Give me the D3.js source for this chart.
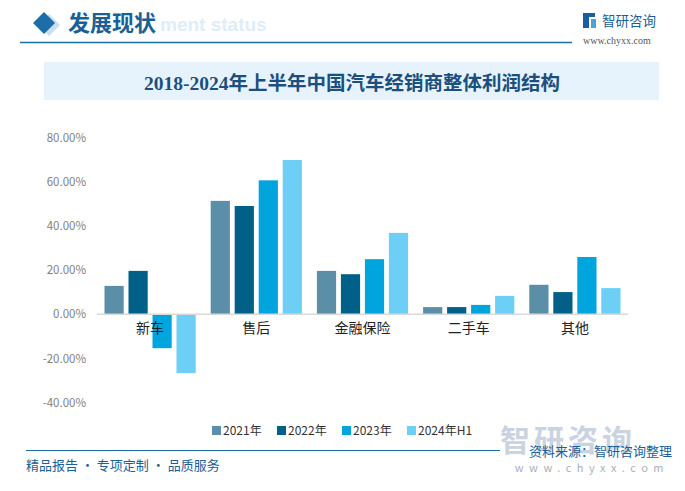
<!DOCTYPE html>
<html><head><meta charset="utf-8">
<script src="https://cdn.jsdelivr.net/npm/d3@7/dist/d3.min.js"></script>
<style>
body{margin:0;background:#fff;}
svg{display:block;font-family:"Noto Sans CJK SC","Microsoft YaHei",sans-serif;}
</style></head>
<body><svg id="c" width="685" height="491"></svg>
<script>
const categories = ["新车","售后","金融保险","二手车","其他"];
const seriesNames = ["2021年","2022年","2023年","2024年H1"];
const s2021 = [12.8, 51.3, 19.6, 3.2, 13.3];
const s2022 = [19.6, 49.0, 18.1, 3.2, 10.0];
const s2023 = [-15.4, 60.6, 24.9, 4.2, 25.9];
const s2024H1 = [-26.7, 69.8, 36.8, 8.3, 11.8];
const yTicks = [80, 60, 40, 20, 0, -20, -40];
const colors = ["#5b8fa8","#006088","#00a5dd","#6dcff6"];
const series = [s2021, s2022, s2023, s2024H1];

const svg = d3.select("#c");

// Header
svg.append("path").attr("d","M44,12 L55,23 L44,34 L33,23 Z").attr("fill","#c9dff0").attr("transform","translate(5,2)");
svg.append("path").attr("d","M44,12 L55,23 L44,34 L33,23 Z").attr("fill","#1b6ea8");
svg.append("text").attr("x",160).attr("y",31).text("ment status")
  .attr("font-family","Arial, Liberation Sans, sans-serif").attr("font-weight","bold")
  .attr("font-size",19).attr("fill","#deedf8");
svg.append("text").attr("x",68).attr("y",31).text("发展现状")
  .attr("font-size",22).attr("font-weight","bold").attr("fill","#1a5f96");
svg.append("line").attr("x1",20).attr("x2",572).attr("y1",42.5).attr("y2",42.5)
  .attr("stroke","#1b6ea8").attr("stroke-width",1.5);
// logo
const lg = svg.append("g").attr("transform","translate(583,13)");
lg.append("rect").attr("x",0).attr("y",0).attr("width",6).attr("height",15).attr("fill","#1b5ea0");
lg.append("rect").attr("x",0).attr("y",0).attr("width",12).attr("height",4).attr("fill","#1b5ea0");
lg.append("rect").attr("x",8).attr("y",6).attr("width",5).attr("height",9).attr("fill","#4aa3df");
svg.append("text").attr("x",602).attr("y",26).text("智研咨询").attr("font-size",13.5).attr("fill","#1a5f96");
svg.append("text").attr("x",583).attr("y",44).text("www.chyxx.com")
  .attr("font-family","Liberation Serif, serif").attr("font-size",10).attr("fill","#555");

// Title box
svg.append("rect").attr("x",44).attr("y",62).attr("width",615).attr("height",38).attr("fill","#e7f3fc");
svg.append("text").attr("x",352).attr("y",90).attr("text-anchor","middle")
  .text("2018-2024年上半年中国汽车经销商整体利润结构")
  .attr("font-family","Liberation Serif, 'Noto Sans CJK SC', serif").attr("font-weight","bold")
  .attr("font-size",19.5).attr("fill","#1c4f7c");

// Scales
const x0 = d3.scaleBand().domain(categories).range([97, 628]).padding(0);
const x1 = d3.scaleBand().domain(seriesNames).range([7.5, x0.bandwidth()-7.5]).paddingInner(0.2).paddingOuter(0);
const y = d3.scaleLinear().domain([-40, 80]).range([402.5, 137.5]);

// y axis labels
const yAxis = d3.axisLeft(y).tickValues(yTicks).tickSize(0).tickPadding(0)
  .tickFormat(d => d.toFixed(2) + "%");
const ya = svg.append("g").attr("transform","translate(86,0)").call(yAxis);
ya.select(".domain").remove();
ya.selectAll("text").attr("font-size",11.5).attr("fill","#7f7f7f")
  .attr("font-family","'Noto Sans CJK SC', sans-serif");

// bars
const groups = svg.append("g").selectAll("g").data(categories).join("g")
  .attr("transform", d => `translate(${x0(d)},0)`);
groups.selectAll("rect").data((d,i) => series.map((s,j) => ({k: seriesNames[j], v: s[i], c: colors[j]})))
  .join("rect")
  .attr("x", d => x1(d.k)).attr("width", x1.bandwidth())
  .attr("y", d => y(Math.max(0, d.v))).attr("height", d => Math.abs(y(d.v) - y(0)))
  .attr("fill", d => d.c);

// zero line
svg.append("line").attr("x1",97).attr("x2",628).attr("y1",y(0)).attr("y2",y(0))
  .attr("stroke","#d9d9d9").attr("stroke-width",1.5);

// category labels
const xAxis = d3.axisBottom(x0).tickSize(0).tickPadding(0);
const xa = svg.append("g").attr("transform",`translate(0,${y(0)+9})`).call(xAxis);
xa.select(".domain").remove();
xa.selectAll("text").attr("font-size",14).attr("fill","#222")
  .attr("font-family","'Noto Sans CJK SC', sans-serif");

// legend
const leg = svg.append("g").selectAll("g").data(seriesNames).join("g")
  .attr("transform",(d,i)=>`translate(${212 + i*65},426)`);
leg.append("rect").attr("width",9).attr("height",9).attr("fill",(d,i)=>colors[i]);
leg.append("text").attr("x",11).attr("y",8.5).text(d=>d).attr("font-size",12).attr("fill","#333")
  .attr("font-family","'Noto Sans CJK SC', sans-serif");

// footer
svg.append("text").attr("x",500).attr("y",451).text("智研咨询").attr("font-size",30)
  .attr("fill","#c9d3e1").attr("font-weight","bold").attr("letter-spacing",4);
svg.append("line").attr("x1",26).attr("x2",500).attr("y1",450.5).attr("y2",450.5)
  .attr("stroke","#1b6ea8").attr("stroke-width",1.2);
svg.append("text").attr("x",26).attr("y",470).text("精品报告 · 专项定制 · 品质服务")
  .attr("font-size",13).attr("fill","#1a5f96");
svg.append("text").attr("x",672).attr("y",456).attr("text-anchor","end").text("资料来源：智研咨询整理")
  .attr("font-size",13).attr("fill","#1a5f96");
svg.append("text").attr("x",669).attr("y",472).attr("text-anchor","end").text("www.chyxx.com")
  .attr("font-size",11).attr("fill","#aab0b8").attr("letter-spacing",5.5);
</script></body></html>
